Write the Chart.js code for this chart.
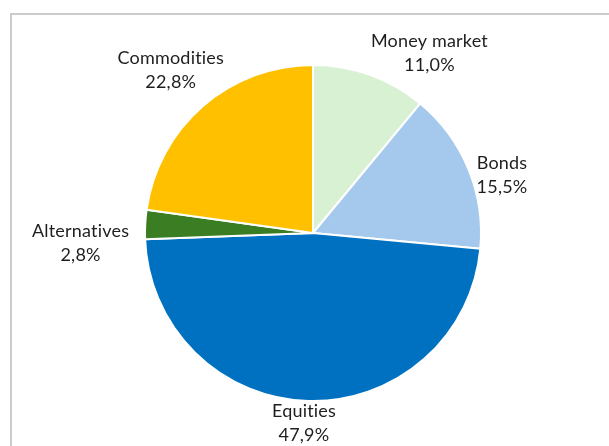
<!DOCTYPE html>
<html>
<head>
<meta charset="utf-8">
<script src="https://cdn.jsdelivr.net/npm/chart.js@4"></script>
<style>
  html, body { margin: 0; padding: 0; background: #fff; overflow: hidden; }
  #wrap { position: relative; width: 609px; height: 446px; }
  #frame { position: absolute; left: 10px; top: 13px; width: 700px; height: 600px;
           border-left: 2px solid #cbcbcb; border-top: 2px solid #cbcbcb; box-sizing: border-box; }
  canvas { position: absolute; left: 0; top: 0; }
</style>
</head>
<body>
<div id="wrap">
  <div id="frame"></div>
  <canvas id="c" width="609" height="446"></canvas>
</div>
<script>
const categories = ["Money market", "Bonds", "Equities", "Alternatives", "Commodities"];
const shares = [11.0, 15.5, 47.9, 2.8, 22.8];
const sliceColors = ["#d9f1d3", "#a5c9ec", "#0070c0", "#3b7d23", "#ffc000"];

// label placement: angular shift (degrees, clockwise) and distance as a multiple of the radius
const labelAngleShift = [13.1, 5.6, 1.1, -5.5, -0.1];
const labelDistance = [1.276, 1.176, 1.132, 1.385, 1.287];

const fmt = v => v.toFixed(1).replace('.', ',') + '%';

const outsideLabels = {
  id: 'outsideLabels',
  afterDatasetsDraw(chart) {
    const ctx = chart.ctx;
    const meta = chart.getDatasetMeta(0);
    ctx.save();
    ctx.font = '18px Lato';
    if ('letterSpacing' in ctx) ctx.letterSpacing = '0.2px';
    ctx.fillStyle = '#1e1e1e';
    ctx.textAlign = 'center';
    ctx.textBaseline = 'middle';
    meta.data.forEach((arc, i) => {
      const p = arc.getProps(['x', 'y', 'startAngle', 'endAngle', 'outerRadius'], true);
      const mid = (p.startAngle + p.endAngle) / 2 + labelAngleShift[i] * Math.PI / 180;
      const d = p.outerRadius * labelDistance[i];
      const x = p.x + Math.cos(mid) * d;
      const y = p.y + Math.sin(mid) * d;
      const lh = 24;
      ctx.fillText(chart.data.labels[i], x, y - lh / 2);
      ctx.fillText(fmt(chart.data.datasets[0].data[i]), x, y + lh / 2);
    });
    ctx.restore();
  }
};

new Chart(document.getElementById('c'), {
  type: 'pie',
  data: {
    labels: categories,
    datasets: [{
      data: shares,
      backgroundColor: sliceColors,
      borderColor: '#ffffff',
      borderWidth: 2
    }]
  },
  options: {
    responsive: false,
    animation: false,
    rotation: 0,
    layout: { padding: { left: 144, right: 127, top: 64, bottom: 44 } },
    plugins: {
      legend: { display: false },
      tooltip: { enabled: false }
    }
  },
  plugins: [outsideLabels]
});
</script>
</body>
</html>
